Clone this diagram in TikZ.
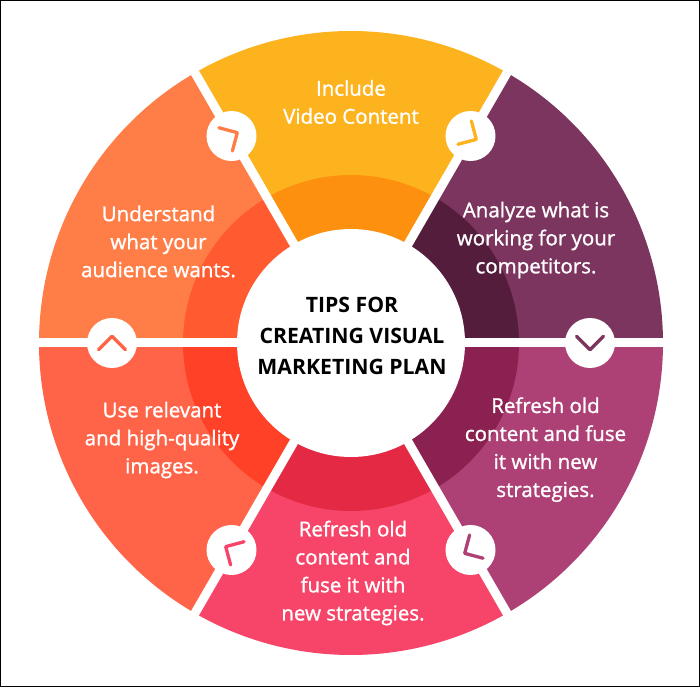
\documentclass[tikz,border=0pt]{standalone}
\usepackage{fontspec}
\usetikzlibrary{calc}
\setmainfont{Open Sans}
\newfontfamily\tipfont[FakeBold=1.2]{Open Sans}
\definecolor{purO}{HTML}{7C355F}
\definecolor{purI}{HTML}{541D3C}
\definecolor{yelO}{HTML}{FDB31E}
\definecolor{yelI}{HTML}{FD900E}
\definecolor{oraO}{HTML}{FF7E48}
\definecolor{oraI}{HTML}{FF5A30}
\definecolor{redO}{HTML}{FF6449}
\definecolor{redI}{HTML}{FF4128}
\definecolor{pinO}{HTML}{F64568}
\definecolor{pinI}{HTML}{E42944}
\definecolor{magO}{HTML}{AD4075}
\definecolor{magI}{HTML}{8B2150}
\tikzset{
  tiptext/.style={text=white, align=center, font=\tipfont\fontsize{20.5}{28}\selectfont},
  knob/.style={circle, fill=white, minimum size=50pt, inner sep=0pt},
  chev/.style={line width=3.3pt, line cap=round, line join=round},
  gapline/.style={white, line width=9pt}
}
\begin{document}
\begin{tikzpicture}[x=1pt,y=1pt]
\useasboundingbox (-351,343) rectangle (349,-344);
\fill[white] (-351,343) rectangle (349,-344);
% sectors
\foreach \s/\co/\ci in {0/purO/purI,60/yelO/yelI,120/oraO/oraI,180/redO/redI,240/pinO/pinI,300/magO/magI}{
  \fill[\co] (0,0) -- (\s:312) arc[start angle=\s, end angle=\s+60, radius=312] -- cycle;
  \fill[\ci] (0,0) -- (\s:168) arc[start angle=\s, end angle=\s+60, radius=168] -- cycle;
}
% gaps
\foreach \s in {0,60,...,300}{
  \draw[gapline] (0,0) -- (\s:320);
}
\node[circle, fill=white, minimum size=228pt, inner sep=0pt] (hub) at (0,0) {};
\node[align=center, font=\fontsize{21.2}{31}\selectfont\bfseries] (title) at (1,7) {TIPS FOR\\CREATING VISUAL\\MARKETING PLAN};
% knobs with chevrons
\foreach \s/\co in {0/purO,60/yelO,120/oraO,180/redO,240/pinO,300/magO}{
  \node[knob] (k\s) at (\s:239) {};
  \pgfmathsetmacro{\d}{\s-90}
  \draw[chev, \co] ($(k\s.center)+(\d:6.7)+(\d+135:19)$) -- ($(k\s.center)+(\d:6.7)$) -- ($(k\s.center)+(\d:6.7)+(\d-135:19)$);
}
% texts
\node[tiptext] (t1) at (0,241) {Include\\Video Content};
\node[tiptext] (t2) at (185,103) {Analyze what is\\working for your\\competitors.};
\node[tiptext] (t3) at (-192.5,101.5) {Understand\\what your\\audience wants.};
\node[tiptext] (t4) at (-189,-97) {Use relevant\\and high-quality\\images.};
\node[tiptext] (t5) at (194.5,-106.6) {Refresh old\\content and fuse\\it with new\\strategies.};
\node[tiptext] (t6) at (2,-230) {Refresh old\\content and\\fuse it with\\new strategies.};
\draw[black, line width=1.5pt] (-350.25,342.25) rectangle (348.25,-343.25);
\end{tikzpicture}
\end{document}
